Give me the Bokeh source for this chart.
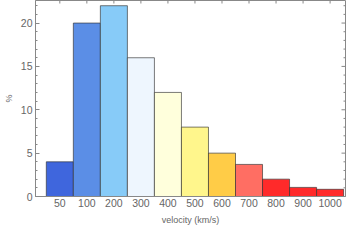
import math
from bokeh.plotting import figure
from bokeh.models import Range1d, FixedTicker
from bokeh.embed import file_html
from bokeh.resources import INLINE

labels = ["50", "100", "200", "300", "400", "500", "600", "700", "800", "900", "1000"]
percent = [4.0, 20.0, 22.0, 16.0, 12.0, 8.0, 5.0, 3.7, 2.0, 1.05, 0.83]
colors = ["#3F66DD", "#5B8EE6", "#87CBF8", "#EEF6FE", "#FFFFDC", "#FFF68C",
          "#FFCC47", "#FF6E63", "#FF2A2A", "#FF2A2A", "#FF2B2B"]
y_major = [0, 5, 10, 15, 20]
y_minor = [v for v in range(0, 23) if v not in y_major]

left = list(range(len(labels)))
right = [i + 1 for i in left]
centers = [i + 0.5 for i in left]

x_lo, x_hi = -0.4, 11.07
y_lo, y_hi = 0, 22.6

p = figure(width=346, height=227, output_backend="svg", toolbar_location=None,
           x_range=Range1d(x_lo, x_hi), y_range=Range1d(y_lo, y_hi),
           min_border_left=26, min_border_right=1, min_border_top=0, min_border_bottom=30)

p.quad(left=left, right=right, bottom=0, top=percent, fill_color=colors,
       line_color="#333333", line_alpha=0.65, line_width=1)

axis_color = "#888888"
label_color = "#666666"
font = "Liberation Sans"

# mirrored ticks on the top and right frame edges (drawn inward)
p.scatter(x=centers, y=[y_hi] * len(centers), marker="dash", size=6, angle=math.pi / 2,
          line_color=axis_color, line_width=1)
p.scatter(x=[x_hi] * len(y_major), y=y_major, marker="dash", size=8,
          line_color=axis_color, line_width=1)
p.scatter(x=[x_hi] * len(y_minor), y=y_minor, marker="dash", size=4,
          line_color=axis_color, line_width=1)

p.grid.visible = False
p.outline_line_color = axis_color
p.outline_line_width = 1
p.background_fill_color = "white"

xa = p.xaxis[0]
xa.ticker = FixedTicker(ticks=centers)
xa.major_label_overrides = {c: l for c, l in zip(centers, labels)}
xa.axis_label = "velocity (km/s)"
ya = p.yaxis[0]
ya.ticker = FixedTicker(ticks=y_major, minor_ticks=y_minor)
ya.axis_label = "%"

for ax in (xa, ya):
    ax.axis_line_color = axis_color
    ax.major_tick_line_color = axis_color
    ax.minor_tick_line_color = axis_color
    ax.major_tick_in = 4
    ax.major_tick_out = 0
    ax.minor_tick_in = 2
    ax.minor_tick_out = 0
    ax.major_label_text_font = font
    ax.major_label_text_font_size = "10.5px"
    ax.major_label_text_color = label_color
    ax.axis_label_text_font = font
    ax.axis_label_text_font_size = "9px"
    ax.axis_label_text_font_style = "normal"
    ax.axis_label_text_color = label_color
xa.major_tick_line_color = None
xa.minor_tick_line_color = None
xa.major_label_standoff = 2
xa.axis_label_standoff = 5
ya.major_label_standoff = 3
ya.axis_label_standoff = 4

open("out.html", "w").write(file_html(p, INLINE))
